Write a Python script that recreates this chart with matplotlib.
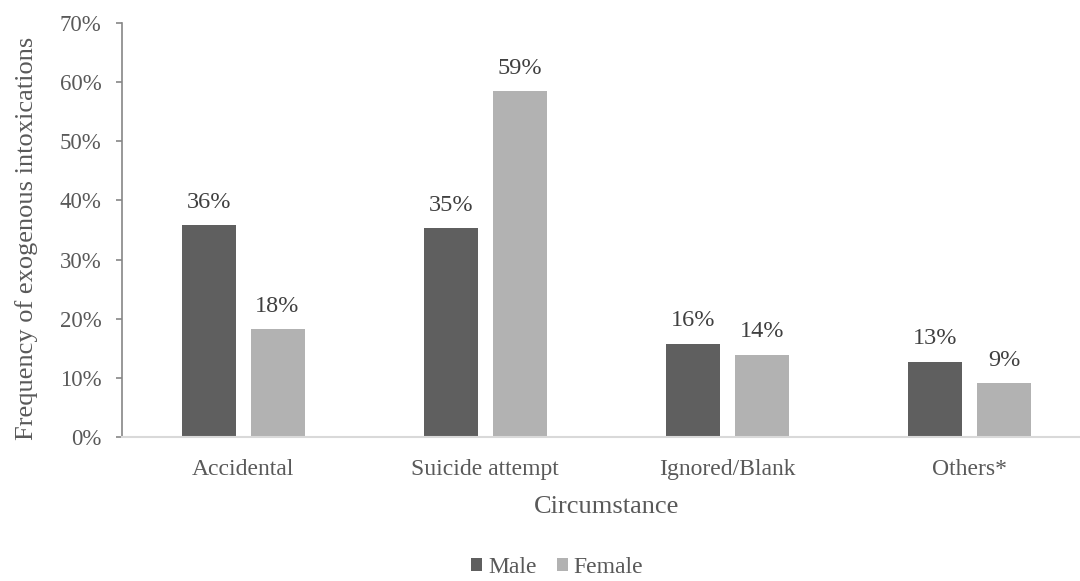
import matplotlib.pyplot as plt
import numpy as np
from matplotlib.ticker import PercentFormatter

categories = ["Accidental", "Suicide attempt", "Ignored/Blank", "Others*"]
male = [35.8, 35.3, 15.8, 12.7]
female = [18.2, 58.5, 13.9, 9.1]
male_labels = ["36%", "35%", "16%", "13%"]
female_labels = ["18%", "59%", "14%", "9%"]

plt.rcParams["font.family"] = ["Liberation Serif", "DejaVu Serif"]
text_grey = "#595959"

fig = plt.figure(figsize=(10.8, 5.81), dpi=100)
# plot area runs slightly past the right edge, like the original export
ax = fig.add_axes([0.113, 0.2478, 0.897, 0.7126])

x = np.arange(len(categories))
w = 0.223
off = 0.142
b1 = ax.bar(x - off, male, w, color="#5f5f5f", label="Male")
b2 = ax.bar(x + off, female, w, color="#b2b2b2", label="Female")

for bars, labels in ((b1, male_labels), (b2, female_labels)):
    for rect, lab in zip(bars, labels):
        ax.annotate(lab, (rect.get_x() + rect.get_width() / 2, rect.get_height()),
                    xytext=(0, 9), textcoords="offset points", ha="center",
                    va="bottom", fontsize=17.5, color="#404040")

ax.set_xlim(-0.5, len(categories) - 0.5)
ax.set_ylim(0, 70)
ax.set_yticks(np.arange(0, 71, 10))
ax.yaxis.set_major_formatter(PercentFormatter(decimals=0))
ax.set_xticks(x)
ax.set_xticklabels(categories)

for s in ("top", "right"):
    ax.spines[s].set_visible(False)
ax.spines["left"].set_color("#868686")
ax.spines["left"].set_linewidth(1.2)
ax.spines["bottom"].set_color("#d9d9d9")
ax.spines["bottom"].set_linewidth(1.5)
ax.tick_params(axis="y", length=4.3, width=1.2, color="#868686", labelsize=16.5,
               labelcolor=text_grey, pad=10.5)
ax.tick_params(axis="x", length=0, labelsize=17, labelcolor=text_grey, pad=15.5)

ax.set_ylabel("Frequency of exogenous intoxications", fontsize=19,
              color=text_grey, va="center")
ax.yaxis.set_label_coords(-0.099, 0.48)
ax.set_xlabel("Circumstance", fontsize=19, color=text_grey, va="center")
ax.xaxis.set_label_coords(0.5, -0.168)

fig.legend(handles=[b1, b2], loc="center", bbox_to_anchor=(0.516, 0.024),
           ncol=2, frameon=False, fontsize=17, labelcolor=text_grey,
           handlelength=0.47, handleheight=0.47, handletextpad=0.25,
           columnspacing=0.85, borderpad=0.2)

fig.savefig("out.png", dpi=100)
